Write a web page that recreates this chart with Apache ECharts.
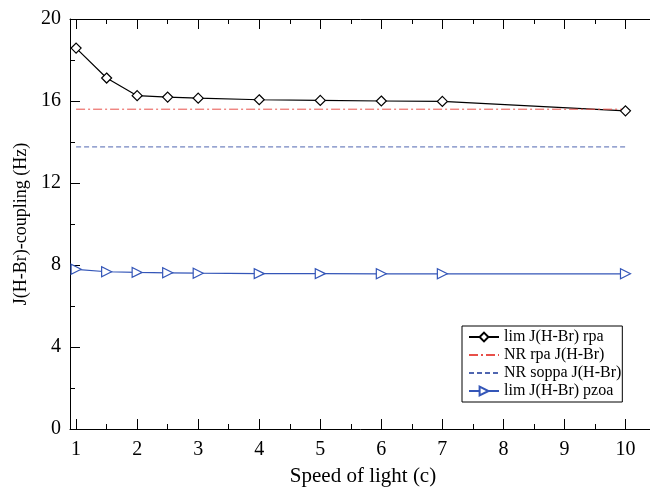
<!DOCTYPE html>
<html>
<head>
<meta charset="utf-8">
<script src="https://cdn.jsdelivr.net/npm/echarts@6/dist/echarts.min.js"></script>
<style>html,body{margin:0;padding:0;background:#fff;}#c{width:650px;height:487px;}</style>
</head>
<body>
<div id="c"></div>
<script>
var speedC = [1, 1.5, 2, 2.5, 3, 4, 5, 6, 7, 10];
var limRpa = [18.58, 17.12, 16.26, 16.19, 16.14, 16.06, 16.03, 16.0, 15.98, 15.52];
var limPzoa = [7.79, 7.67, 7.64, 7.62, 7.6, 7.58, 7.58, 7.57, 7.57, 7.57];
var nrRpaX = [1, 10];
var nrRpa = [15.6, 15.6];
var nrSoppaX = [1, 10];
var nrSoppa = [13.76, 13.76];
var xMajor = [1, 2, 3, 4, 5, 6, 7, 8, 9, 10];
var xMinor = [1.5, 2.5, 3.5, 4.5, 5.5, 6.5, 7.5, 8.5, 9.5];
var names = ['lim J(H-Br) rpa', 'NR rpa J(H-Br)', 'NR soppa J(H-Br)', 'lim J(H-Br) pzoa'];

function pairs(xs, ys) { return xs.map(function (x, i) { return [x, ys[i]]; }); }

var FONT = 'Liberation Serif';
var XMIN = 0.9, XMAX = 10.5;
function xAx(pos, ticks, len, labels, line) {
  return {
    type: 'value', position: pos, min: XMIN, max: XMAX,
    axisLine: { show: line, onZero: false, lineStyle: { color: '#000', width: 1 } },
    axisTick: { show: true, inside: true, length: len, customValues: ticks, lineStyle: { color: '#000' } },
    axisLabel: { show: labels, customValues: ticks, color: '#000', fontFamily: FONT, fontSize: 20, margin: 11 },
    splitLine: { show: false }
  };
}
var xAxes = [
  xAx('bottom', xMajor, 10, true, true),
  xAx('bottom', xMinor, 5, false, false),
  xAx('top', xMajor, 10, false, true),
  xAx('top', xMinor, 5, false, false)
];
xAxes[0].name = 'Speed of light (c)';
xAxes[0].nameLocation = 'middle';
xAxes[0].nameGap = 37;
xAxes[0].nameTextStyle = { color: '#000', fontFamily: FONT, fontSize: 21 };

var chart = echarts.init(document.getElementById('c'), null, { renderer: 'canvas' });
chart.setOption({
  animation: false,
  backgroundColor: '#fff',
  grid: { left: 70, right: -6, top: 19, bottom: 58, containLabel: false, outerBoundsMode: 'none' },
  legend: {
    orient: 'vertical', left: 462, top: 326,
    data: names,
    borderColor: '#000', borderWidth: 1, borderRadius: 0,
    padding: [3, 1, 3, 6], itemGap: 2, itemWidth: 30, itemHeight: 11,
    textStyle: { color: '#000', fontFamily: FONT, fontSize: 16 }
  },
  xAxis: xAxes,
  yAxis: {
    type: 'value', min: 0, max: 20, interval: 4,
    name: 'J(H-Br)-coupling (Hz)', nameLocation: 'middle', nameGap: 38,
    nameTextStyle: { color: '#000', fontFamily: FONT, fontSize: 18 },
    axisLine: { show: true, lineStyle: { color: '#000', width: 1 } },
    axisTick: { show: true, inside: true, length: 10, lineStyle: { color: '#000' } },
    minorTick: { show: true, splitNumber: 2, length: 5, lineStyle: { color: '#000' } },
    axisLabel: { color: '#000', fontFamily: FONT, fontSize: 20, margin: 9 },
    splitLine: { show: false }
  },
  series: [
    {
      name: names[0], type: 'line', data: pairs(speedC, limRpa),
      symbol: 'diamond', symbolSize: 10, showAllSymbol: true,
      lineStyle: { color: '#000', width: 1.2 },
      itemStyle: { color: '#fff', borderColor: '#000', borderWidth: 1.2 }
    },
    {
      name: names[1], type: 'line', data: pairs(nrRpaX, nrRpa), symbol: 'none',
      lineStyle: { color: '#e8504a', width: 1, type: [9, 3, 2, 3] },
      itemStyle: { color: 'rgba(0,0,0,0)' }
    },
    {
      name: names[2], type: 'line', data: pairs(nrSoppaX, nrSoppa), symbol: 'none',
      lineStyle: { color: '#5066b0', width: 1, type: [5, 3] },
      itemStyle: { color: 'rgba(0,0,0,0)' }
    },
    {
      name: names[3], type: 'line', data: pairs(speedC, limPzoa),
      symbol: 'triangle', symbolRotate: -90, symbolSize: 10, showAllSymbol: true,
      lineStyle: { color: '#3456b8', width: 1.2 },
      itemStyle: { color: '#fff', borderColor: '#3456b8', borderWidth: 1.2 }
    }
  ]
});
</script>
</body>
</html>
